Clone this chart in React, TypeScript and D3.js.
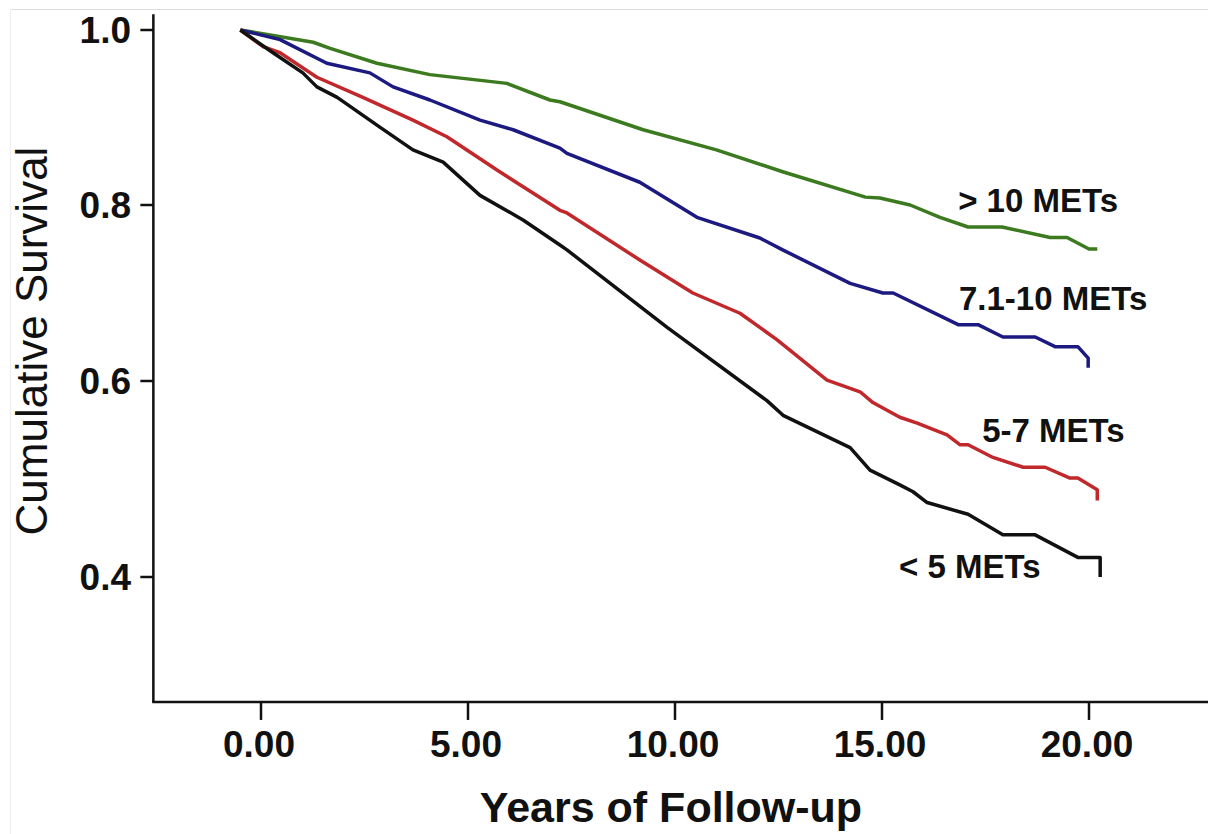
import React from "react";
import * as d3 from "d3";

// Kaplan-Meier survival curves by exercise capacity (t = years, v = cumulative survival)
const gt10Mets: [number, number][] = [
  [-0.5, 1.0], [1.26, 0.986], [1.67, 0.979], [2.8, 0.962], [4.08, 0.949], [5.94, 0.939],
  [6.98, 0.92], [7.22, 0.918], [9.23, 0.886], [11.0, 0.863], [12.6, 0.838], [14.6, 0.809],
  [14.95, 0.808], [15.68, 0.8], [16.4, 0.786], [17.08, 0.775], [17.9, 0.775], [19.06, 0.763],
  [19.47, 0.763], [20.0, 0.75], [20.2, 0.75],
];
const mets7to10: [number, number][] = [
  [-0.5, 1.0], [0.46, 0.989], [1.59, 0.962], [2.63, 0.951], [3.19, 0.935], [4.08, 0.92],
  [5.29, 0.897], [6.09, 0.886], [7.22, 0.865], [7.39, 0.859], [9.15, 0.826], [10.53, 0.786],
  [12.05, 0.7625], [12.6, 0.749], [14.23, 0.711], [15.02, 0.7], [15.27, 0.7], [16.84, 0.664],
  [17.32, 0.664], [17.92, 0.65], [18.7, 0.65], [19.18, 0.639], [19.73, 0.639], [19.98, 0.626],
  [19.98, 0.615],
];
const mets5to7: [number, number][] = [
  [-0.5, 1.0], [0.05, 0.981], [0.46, 0.974], [1.35, 0.946], [2.46, 0.923], [3.67, 0.897],
  [4.49, 0.878], [5.7, 0.84], [7.22, 0.794], [7.39, 0.791], [9.15, 0.7375], [10.43, 0.7],
  [11.57, 0.677], [12.46, 0.647], [13.67, 0.601], [14.47, 0.589], [14.78, 0.578], [15.43, 0.563],
  [15.85, 0.557], [16.57, 0.545], [16.88, 0.535], [17.08, 0.535], [17.68, 0.522], [18.41, 0.512],
  [18.94, 0.512], [19.54, 0.501], [19.73, 0.501], [20.2, 0.489], [20.2, 0.478],
];
const lt5Mets: [number, number][] = [
  [-0.5, 1.0], [0.29, 0.974], [1.01, 0.951], [1.35, 0.935], [1.84, 0.923], [2.87, 0.889],
  [3.67, 0.863], [4.4, 0.849], [5.29, 0.811], [6.33, 0.783], [7.22, 0.7545], [7.39, 0.749],
  [9.81, 0.661], [12.22, 0.58], [12.61, 0.565], [14.23, 0.532], [14.71, 0.509], [15.43, 0.494],
  [15.75, 0.487], [16.09, 0.476], [17.08, 0.464], [17.92, 0.443], [18.7, 0.443], [19.73, 0.42],
  [20.27, 0.42], [20.27, 0.4],
];

const seriesNames = ["> 10 METs", "7.1-10 METs", "5-7 METs", "< 5 METs"];
const seriesColors = ["#3b7a1f", "#1c1a80", "#c0282c", "#111111"];
const seriesData = [gt10Mets, mets7to10, mets5to7, lt5Mets];
const labelPos: [number, number][] = [
  [16.84, 0.792],
  [16.86, 0.681],
  [17.42, 0.538],
  [15.41, 0.399],
];

const xTicks = [0, 5, 10, 15, 20];
const yTicks = [0.4, 0.6, 0.8, 1.0];

const FONT = "'Liberation Sans', Arial, Helvetica, sans-serif";

export default function App() {
  const x = d3.scaleLinear().domain([0, 20]).range([261, 1089]);
  const y = d3.scaleLinear().domain([0.4, 0.6, 0.8, 1.0]).range([577, 381, 205, 30]);
  const xDomain = [-2.6, 22.9];
  const yBottom = 0.2725;
  const yTop = 1.009;

  const line = d3
    .line<[number, number]>()
    .x((d) => x(d[0]))
    .y((d) => y(d[1]));

  const axisX0 = x(xDomain[0]);
  const axisX1 = x(xDomain[1]);
  const axisYb = y(yBottom);

  return (
    <svg
      width={1208}
      height={834}
      style={{ position: "absolute", left: 0, top: 0, background: "#fff" }}
      fontFamily={FONT}
    >
      <rect x={0} y={0} width={1208} height={834} fill="#fff" />
      {/* faint frame */}
      <line x1={10} x2={1208} y1={9.5} y2={9.5} stroke="#dddddd" strokeWidth={1} />
      <line x1={10.5} x2={10.5} y1={9} y2={834} stroke="#eeeeee" strokeWidth={1} />

      {/* axes */}
      <line x1={axisX0} x2={axisX0} y1={y(yTop) - 8} y2={axisYb} stroke="#111" strokeWidth={2.5} />
      <line x1={axisX0 - 1.2} x2={axisX1} y1={axisYb} y2={axisYb} stroke="#111" strokeWidth={2.5} />

      {yTicks.map((t) => (
        <g key={"y" + t}>
          <line x1={axisX0 - 13} x2={axisX0} y1={y(t)} y2={y(t)} stroke="#111" strokeWidth={2.5} />
          <text
            x={131}
            y={y(t) + 13}
            textAnchor="end"
            fontSize={37}
            fontWeight="bold"
            fill="#111"
          >
            {t.toFixed(1)}
          </text>
        </g>
      ))}

      {xTicks.map((t) => (
        <g key={"x" + t}>
          <line x1={x(t)} x2={x(t)} y1={axisYb} y2={axisYb + 18} stroke="#111" strokeWidth={2.5} />
          <text
            x={x(t) - 2}
            y={757}
            textAnchor="middle"
            fontSize={37}
            fontWeight="bold"
            fill="#111"
          >
            {t.toFixed(2)}
          </text>
        </g>
      ))}

      <text
        x={671}
        y={822}
        textAnchor="middle"
        fontSize={43}
        fontWeight="bold"
        fill="#111"
      >
        Years of Follow-up
      </text>

      <text
        transform={`translate(47, 341) rotate(-90)`}
        textAnchor="middle"
        fontSize={44}
        fill="#111"
      >
        Cumulative Survival
      </text>

      {seriesData.map((d, i) => (
        <path
          key={"s" + i}
          d={line(d) || ""}
          fill="none"
          stroke={seriesColors[i]}
          strokeWidth={3.5}
          strokeLinejoin="round"
        />
      ))}

      {seriesNames.map((n, i) => (
        <text
          key={"l" + i}
          x={x(labelPos[i][0])}
          y={y(labelPos[i][1])}
          fontSize={33}
          fontWeight="bold"
          fill="#111"
        >
          {n}
        </text>
      ))}
    </svg>
  );
}
